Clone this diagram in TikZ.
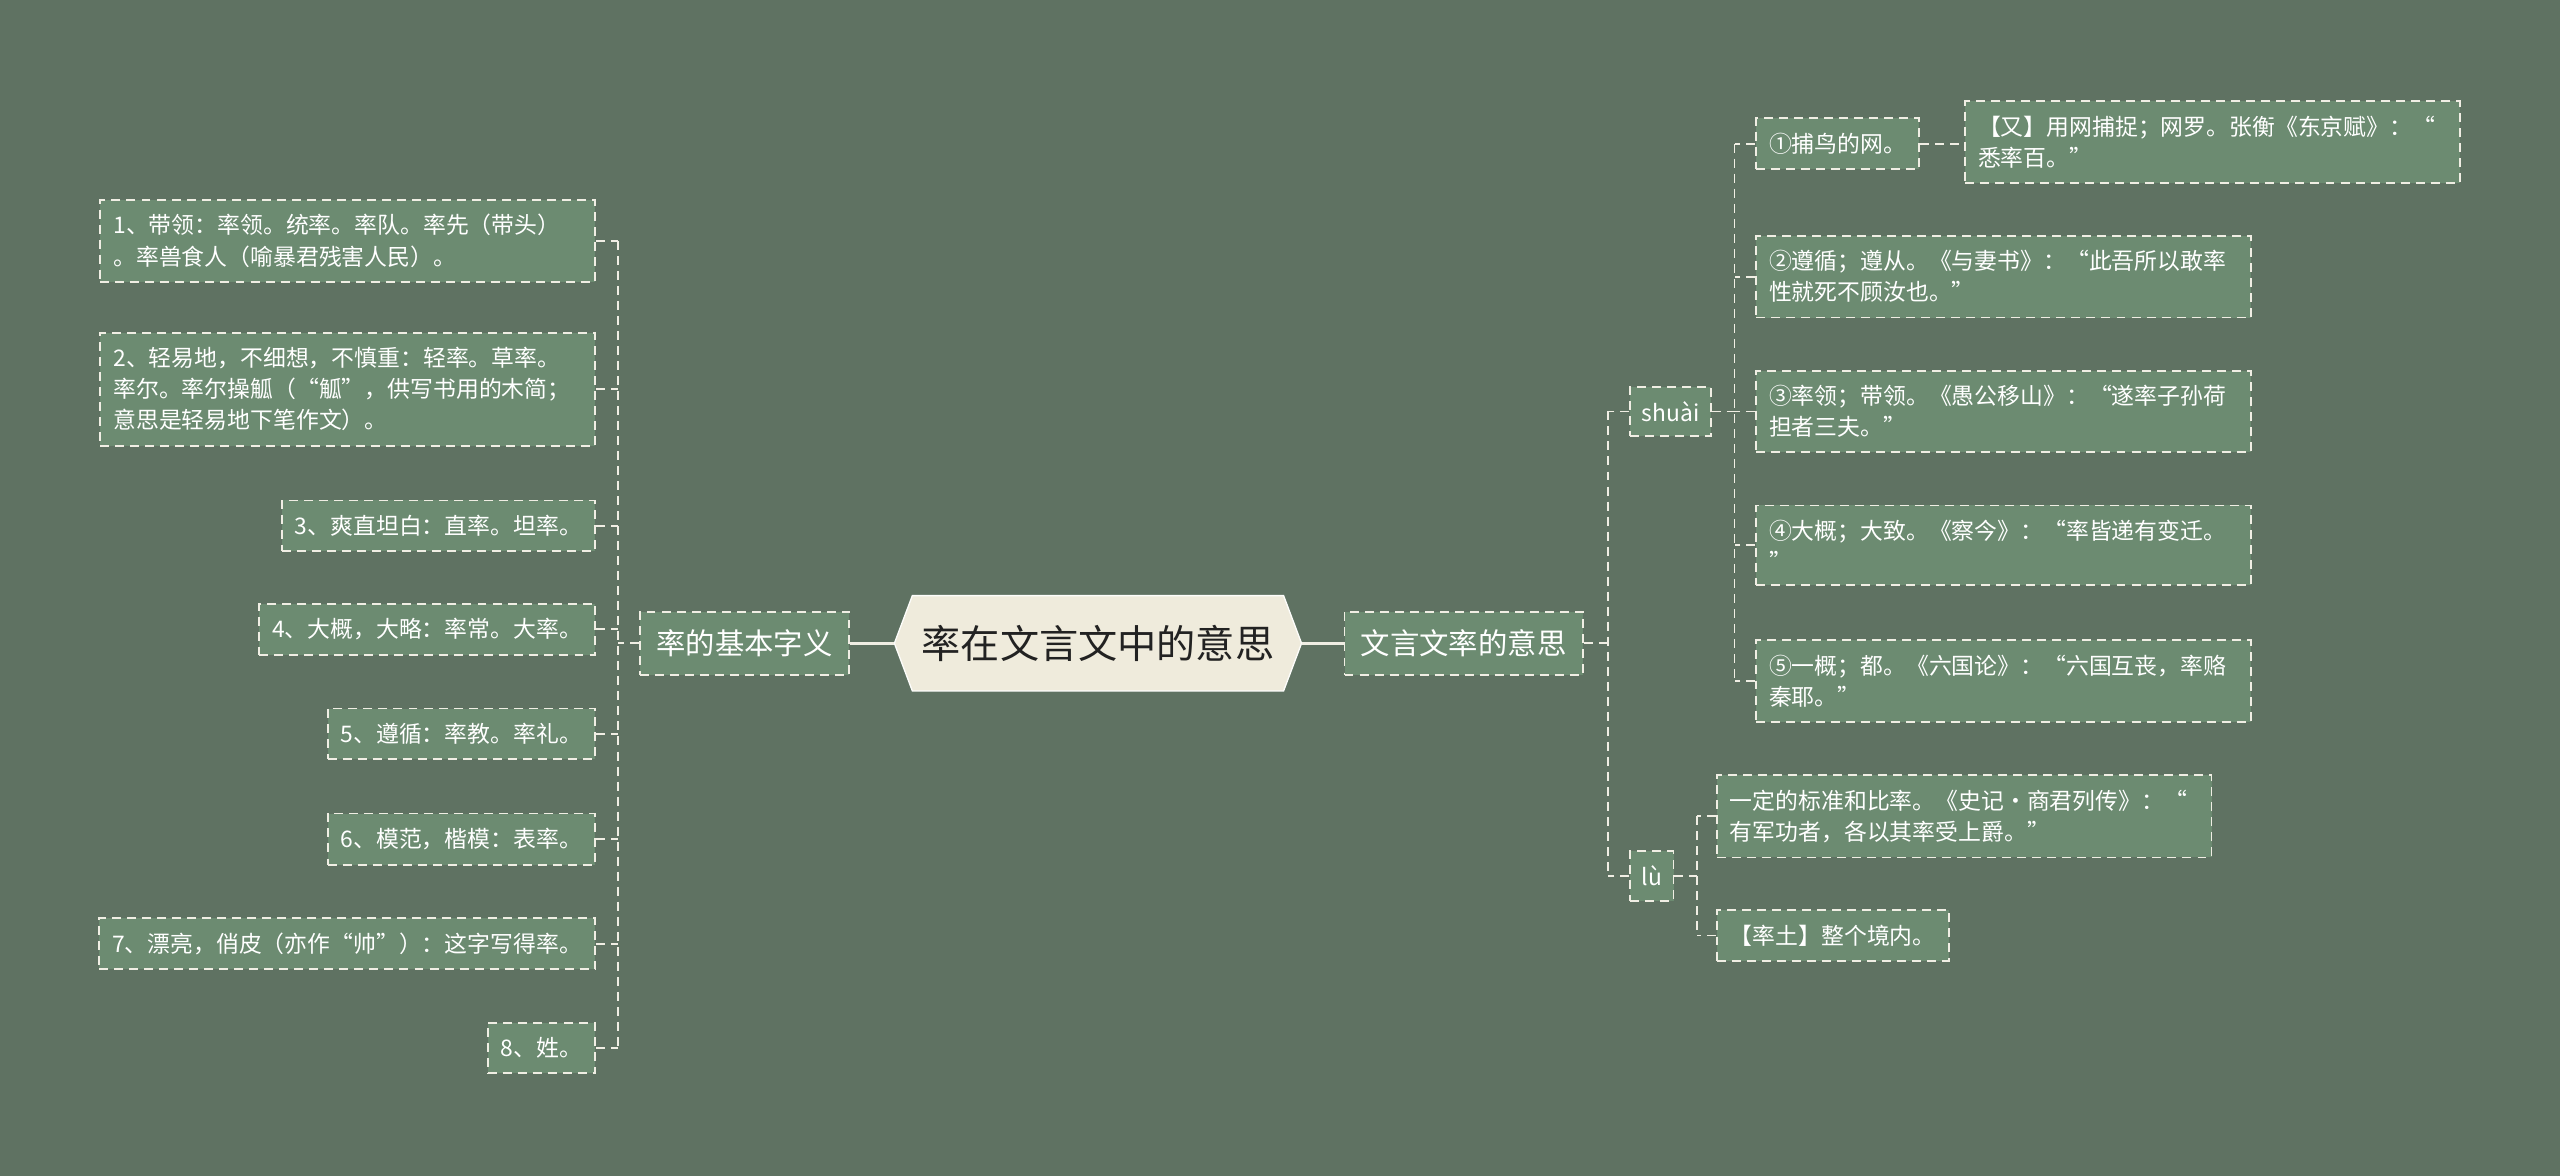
\documentclass[tikz,border=0pt]{standalone}
\usepackage{fontspec}
\setmainfont{Noto Sans CJK SC}
\usetikzlibrary{backgrounds}
\definecolor{bg}{HTML}{5F7262}
\definecolor{nodefill}{HTML}{6C8B71}
\definecolor{linec}{HTML}{F0EEE4}
\definecolor{cfill}{HTML}{EFEBDC}
\definecolor{ctext}{HTML}{222222}
\begin{document}
\begin{tikzpicture}[x=1pt,y=-1pt,
  dashbox/.style={draw=linec, fill=nodefill, line width=1.1pt, dash pattern=on 5.5pt off 3.7pt, text=white},
  leaf/.style={dashbox, font=\fontsize{14}{19}\selectfont, inner xsep=8pt, inner ysep=9pt, align=left},
  wide/.style={leaf, text width=287pt},
  branch/.style={dashbox, font=\fontsize{18}{22}\selectfont, inner xsep=10pt, inner ysep=11pt},
  pinyin/.style={leaf, inner xsep=7pt},
  conn/.style={draw=linec, line width=1.1pt, dash pattern=on 5.5pt off 3.7pt},
  mainconn/.style={draw=linec, line width=2pt}
]
\begin{scope}[on background layer]
\fill[bg] (0,0) rectangle (1568,720);
\end{scope}
\useasboundingbox (0,0) rectangle (1568,720);

% center
\node[font=\fontsize{24}{28}\selectfont, text=ctext, minimum width=249pt, minimum height=58pt, inner sep=0pt] (c) at (672.5,394) {率在文言文中的意思};
\begin{scope}[on background layer]
\fill[cfill, draw=white!90!cfill, line width=0.8pt] (c.west) -- ([xshift=11pt]c.north west) -- ([xshift=-11pt]c.north east) -- (c.east) -- ([xshift=-11pt]c.south east) -- ([xshift=11pt]c.south west) -- cycle;
\end{scope}

% branches
\node[branch] (bl) at (456,394) {率的基本字义};
\node[branch] (br) at (896.5,394) {文言文率的意思};
\draw[mainconn] (c.west) -- (bl.east);
\draw[mainconn] (c.east) -- (br.west);

% left leaves
\node[wide, anchor=east] (l1) at (365,147.5) {1、带领：率领。统率。率队。率先（带头）\\。率兽食人（喻暴君残害人民）。};
\node[wide, anchor=east] (l2) at (365,238.5) {2、轻易地，不细想，不慎重：轻率。草率。\\率尔。率尔操觚（“觚”，供写书用的木简；\\意思是轻易地下笔作文）。};
\node[leaf, anchor=east] (l3) at (365,322) {3、爽直坦白：直率。坦率。};
\node[leaf, anchor=east] (l4) at (365,385.5) {4、大概，大略：率常。大率。};
\node[leaf, anchor=east] (l5) at (365,449.5) {5、遵循：率教。率礼。};
\node[leaf, anchor=east] (l6) at (365,514) {6、模范，楷模：表率。};
\node[leaf, anchor=east] (l7) at (365,578) {7、漂亮，俏皮（亦作“帅”）：这字写得率。};
\node[leaf, anchor=east] (l8) at (365,642) {8、姓。};

\coordinate (lt) at ([xshift=-13pt]bl.west);
\draw[conn] (bl.west) -- (lt);
\draw[conn] (l1.east -| lt) -- (l8.east -| lt);
\foreach \n in {l1,l2,l3,l4,l5,l6,l7,l8} {\draw[conn] (\n.east) -- (\n.east -| lt);}

% right side
\node[pinyin, anchor=west] (sh) at (998,252) {shuài};
\node[pinyin, anchor=west] (lu) at (998,536.5) {lù};
\coordinate (rt) at ([xshift=15pt]br.east);
\draw[conn] (br.east) -- (rt);
\draw[conn] (sh.west -| rt) -- (lu.west -| rt);
\draw[conn] (sh.west) -- (sh.west -| rt);
\draw[conn] (lu.west) -- (lu.west -| rt);

\node[leaf, anchor=west] (r1) at (1075,88) {①捕鸟的网。};
\node[wide, anchor=west] (r1a) at (1203,87) {【又】用网捕捉；网罗。张衡《东京赋》：“\\悉率百。”};
\node[wide, anchor=west] (r2) at (1075,169.5) {②遵循；遵从。《与妻书》：“此吾所以敢率\\性就死不顾汝也。”};
\node[wide, anchor=west] (r3) at (1075,252) {③率领；带领。《愚公移山》：“遂率子孙荷\\担者三夫。”};
\node[wide, anchor=west] (r4) at (1075,334) {④大概；大致。《察今》：“率皆递有变迁。\\”};
\node[wide, anchor=west] (r5) at (1075,417) {⑤一概；都。《六国论》：“六国互丧，率赂\\秦耶。”};
\draw[conn] (r1.east) -- (r1a.west |- r1.east);

\coordinate (st) at ([xshift=14pt]sh.east);
\draw[conn] (sh.east) -- (st);
\draw[conn] (r1.west -| st) -- (r5.west -| st);
\foreach \n in {r1,r2,r3,r4,r5} {\draw[conn] (\n.west) -- (\n.west -| st);}

\node[wide, anchor=west] (u1) at (1051,500) {一定的标准和比率。《史记·商君列传》：“\\有军功者，各以其率受上爵。”};
\node[leaf, anchor=west] (u2) at (1051,573) {【率土】整个境内。};
\coordinate (ut) at ([xshift=14pt]lu.east);
\draw[conn] (lu.east) -- (ut);
\draw[conn] (u1.west -| ut) -- (u2.west -| ut);
\foreach \n in {u1,u2} {\draw[conn] (\n.west) -- (\n.west -| ut);}
\end{tikzpicture}
\end{document}
